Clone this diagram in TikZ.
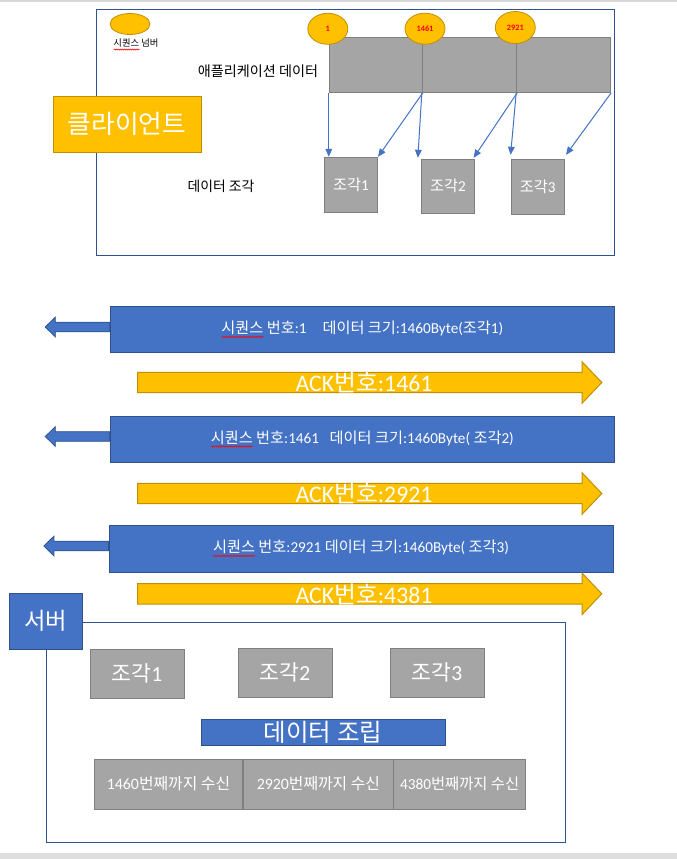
\documentclass[tikz,border=0pt]{standalone}
\usepackage{fontspec}
\setmainfont{Carlito}
\newfontfamily\kr{Noto Sans CJK KR}
\usetikzlibrary{arrows.meta,calc,shapes.geometric,decorations.pathmorphing}
\definecolor{ygold}{HTML}{FFC000}
\definecolor{ygoldd}{HTML}{BF9000}
\definecolor{bblue}{HTML}{4472C4}
\definecolor{bblued}{HTML}{2F528F}
\definecolor{ggrey}{HTML}{A5A5A5}
\definecolor{ggreyd}{HTML}{7F7F7F}
\newsavebox\wvbox
\newcommand\wavy[1]{\sbox\wvbox{#1}\makebox[0pt][l]{\raisebox{-2.4pt}{\tikz[x=1pt,y=1pt,baseline=0pt]\draw[red,line width=0.4pt,decorate,decoration={zigzag,amplitude=0.45pt,segment length=1.5pt}] (0,0)--(\the\wd\wvbox,0);}}\usebox\wvbox}
\tikzset{
  wh/.style 2 args={minimum width=#1*0.75pt,minimum height=#2*0.75pt,inner sep=0pt},
  greybox/.style={draw=ggreyd,fill=ggrey,line width=0.75pt,text=white},
  bluebox/.style={draw=bblued,fill=bblue,line width=0.75pt,text=white},
  goldbox/.style={draw=ygoldd,fill=ygold,line width=0.75pt,text=white},
  framebox/.style={draw=bblued,line width=0.75pt},
  seqnum/.style={ellipse,draw=ygoldd,fill=ygold,line width=0.6pt,inner sep=0pt,text=red,font=\bfseries\fontsize{6.2}{7}\selectfont},
  link/.style={draw=bblue,line width=0.75pt,-{Triangle[length=6pt,width=5pt]}},
  leftarr/.style={fill=bblue,draw=bblued,line width=0.6pt},
  yarrow/.style={fill=ygold,draw=ygoldd,line width=0.75pt},
  yarrowpic/.pic={\draw[yarrow] (137.6,-10.2) -- (582,-10.2) -- (582,-20.8) -- (601.8,0) -- (582,20.8) -- (582,10.2) -- (137.6,10.2) -- cycle;},
  bartext/.style={text=white,font=\fontsize{11.4}{13}\selectfont},
  acktext/.style={text=white,font=\fontsize{17.8}{21}\selectfont},
  plain/.style={text=black}
}
\begin{document}
\begin{tikzpicture}[x=0.75pt,y=-0.75pt]
\useasboundingbox (0,0) rectangle (677,859);
\fill[white] (0,0) rectangle (677,859);
\fill[black!15] (0,0) rectangle (677,2);
\fill[black!13] (0,853) rectangle (677,859);

% ---------------- client ----------------
\node[framebox,wh={518}{246}] (cframe) at (355.3,132.3) {};
\node[seqnum,wh={40}{21}] (leg) at (130,24) {};
\node[plain,font=\kr\fontsize{7}{8}\selectfont] (legt) at (136,44.5) {\wavy{시퀀스} 넘버};
\node[plain,font=\kr\fontsize{10.6}{13}\selectfont] (applbl) at (258,71) {애플리케이션 데이터};

\node[greybox,wh={93}{55}] (c1) at (375.8,64.8) {};
\node[greybox,wh={94.4}{55}] (c2) at (469.5,64.8) {};
\node[greybox,wh={94}{55}] (c3) at (563.7,64.8) {};

\node[seqnum,wh={40}{31}] (e1) at (327.8,28.8) {1};
\node[seqnum,wh={40}{31}] (e2) at (425,28.7) {1461};
\node[seqnum,wh={40}{32}] (e3) at (515.3,27.5) {2921};

\node[goldbox,wh={148}{56},font=\kr\fontsize{19.3}{23}\selectfont] (client) at (127,124.3) {클라이언트};

\node[greybox,wh={53.3}{55},font=\fontsize{11.4}{13}\selectfont] (f1) at (350.9,184.8) {{\kr 조각}1};
\node[greybox,wh={53.3}{54},font=\fontsize{11.4}{13}\selectfont] (f2) at (448,186.3) {{\kr 조각}2};
\node[greybox,wh={53.4}{55},font=\fontsize{11.4}{13}\selectfont] (f3) at (537.8,186.8) {{\kr 조각}3};
\node[plain,font=\kr\fontsize{10.4}{12}\selectfont] (fraglbl) at (221,186) {데이터 조각};

\draw[link] (c1.south west) -- (c1.south west |- f1.north);
\draw[link] (c1.south east) -- (f1.north east);
\draw[link] (c2.south west) -- ($(f2.north west)+(-3,-1)$);
\draw[link] (c2.south east) -- ($(f2.north east)+(-1.5,-1)$);
\draw[link] (c3.south west) -- ($(f3.north west)+(0,-4)$);
\draw[link] (c3.south east) -- ($(f3.north east)+(1,-4)$);

% ---------------- exchange ----------------
\node[bluebox,wh={504}{45.6},bartext] (b1) at (362.35,329.5)
  {{\kr\wavy{시퀀스} 번호}:1\hspace{12pt}{\kr 데이터 크기}:1460Byte({\kr 조각}1)};
\node[bluebox,wh={504}{46},bartext] (b2) at (362.35,439)
  {{\kr\wavy{시퀀스} 번호}:1461\hspace{8pt}{\kr 데이터 크기}:1460Byte( {\kr 조각}2)};
\node[bluebox,wh={504}{47},bartext] (b3) at (361,548.5)
  {{\kr\wavy{시퀀스} 번호}:2921 {\kr 데이터 크기}:1460Byte( {\kr 조각}3)};

\foreach \b in {b1,b2,b3}{
  \draw[leftarr] ($(\b.west)+(0,-7.3)$) -- ++(-54.6,0) -- ++(0,-5) -- ++(-10,9.8) -- ++(10,9.8) -- ++(0,-5) -- ++(54.6,0) -- cycle;
}

\pic at (0,382.5) {yarrowpic};
\pic at (0,493.5) {yarrowpic};
\pic at (0,593.8) {yarrowpic};
\node[acktext] (ack1) at (364,382) {ACK{\kr 번호}:1461};
\node[acktext] (ack2) at (364,493) {ACK{\kr 번호}:2921};
\node[acktext] (ack3) at (364,594) {ACK{\kr 번호}:4381};

% ---------------- server ----------------
\node[framebox,wh={519}{220}] (sframe) at (305.5,732) {};
\node[bluebox,wh={72.4}{56},font=\kr\fontsize{17.5}{21}\selectfont] (server) at (45.8,621) {서버};

\node[greybox,wh={94}{49},font=\fontsize{16.2}{19}\selectfont] (s1) at (137,673.5) {{\kr 조각}1};
\node[greybox,wh={94}{49},font=\fontsize{16.2}{19}\selectfont] (s2) at (285,672.5) {{\kr 조각}2};
\node[greybox,wh={94}{49},font=\fontsize{16.2}{19}\selectfont] (s3) at (437,672.5) {{\kr 조각}3};

\node[bluebox,wh={244}{26},font=\kr\fontsize{18.4}{21}\selectfont] (asm) at (323,732) {데이터 조립};

\node[greybox,wh={148}{50},font=\fontsize{11.9}{14}\selectfont] (r1) at (168.5,784) {1460{\kr 번째까지 수신}};
\node[greybox,wh={150}{50},font=\fontsize{11.9}{14}\selectfont] (r2) at (318.4,784) {2920{\kr 번째까지 수신}};
\node[greybox,wh={132.4}{50},font=\fontsize{11.5}{14}\selectfont] (r3) at (459.6,784) {4380{\kr 번째까지 수신}};
\end{tikzpicture}
\end{document}
